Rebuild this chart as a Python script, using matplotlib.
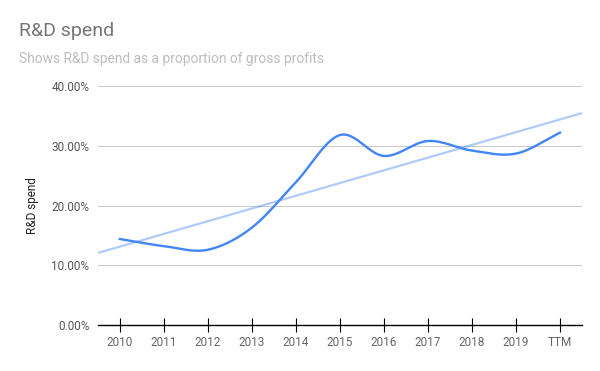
import matplotlib.pyplot as plt
import numpy as np
from matplotlib.ticker import FuncFormatter

plt.rcParams['font.family'] = ['Roboto', 'DejaVu Sans']

# data
years = ['2010', '2011', '2012', '2013', '2014', '2015', '2016', '2017', '2018', '2019', 'TTM']
rd_share = [14.4, 13.2, 12.6, 16.3, 23.9, 31.8, 28.3, 30.8, 29.2, 28.7, 32.2]


def catmull_rom(xs, ys, n=30):
    # smooth curve through every point, like the spreadsheet's "smooth" option
    xs = np.asarray(xs, float)
    ys = np.asarray(ys, float)
    px = np.concatenate([[2 * xs[0] - xs[1]], xs, [2 * xs[-1] - xs[-2]]])
    py = np.concatenate([[2 * ys[0] - ys[1]], ys, [2 * ys[-1] - ys[-2]]])
    out_x, out_y = [], []
    t = np.linspace(0, 1, n)
    for i in range(1, len(px) - 2):
        for p, out in ((px, out_x), (py, out_y)):
            p0, p1, p2, p3 = p[i - 1], p[i], p[i + 1], p[i + 2]
            out.extend(0.5 * ((2 * p1) + (-p0 + p2) * t
                              + (2 * p0 - 5 * p1 + 4 * p2 - p3) * t ** 2
                              + (-p0 + 3 * p1 - 3 * p2 + p3) * t ** 3))
    return np.array(out_x), np.array(out_y)


x = np.arange(len(years))
fig = plt.figure(figsize=(6, 3.71), dpi=100)
ax = fig.add_axes([0.163, 0.124, 0.807, 0.644])

# trendline (linear fit)
k, b = np.polyfit(x, rd_share, 1)
tx = np.array([-0.5, len(years) - 0.5])
ax.plot(tx, k * tx + b, color='#4285f4', alpha=0.42, lw=1.6, solid_capstyle='butt', zorder=2)

sx, sy = catmull_rom(x, rd_share)
ax.plot(sx, sy, color='#4285f4', lw=1.7, zorder=3)

ax.set_xlim(-0.5, len(years) - 0.5)
ax.set_ylim(0, 40)
ax.set_yticks([0, 10, 20, 30, 40])
ax.yaxis.set_major_formatter(FuncFormatter(lambda v, p: '%.2f%%' % v))
ax.set_xticks(x)
ax.set_xticklabels(years)
ax.grid(axis='y', color='#cccccc', lw=0.8)
ax.set_axisbelow(True)
for s in ['top', 'right', 'left']:
    ax.spines[s].set_visible(False)
ax.spines['bottom'].set_color('black')
ax.spines['bottom'].set_linewidth(1.0)
ax.spines['bottom'].set_zorder(4)
ax.tick_params(axis='y', length=0, labelsize=8.5, labelcolor='#555555', pad=6)
ax.tick_params(axis='x', direction='inout', length=10, width=0.8, color='black',
               labelsize=8.5, labelcolor='#666666', pad=3)
ax.set_ylabel('R&D spend', fontsize=8.5, color='#222222', labelpad=9)

fig.text(0.032, 0.916, 'R&D spend', fontsize=14, color='#757575', va='center')
fig.text(0.032, 0.841, 'Shows R&D spend as a proportion of gross profits',
         fontsize=9.9, color='#bdbdbd', va='center')

fig.savefig('out.png', dpi=100)
